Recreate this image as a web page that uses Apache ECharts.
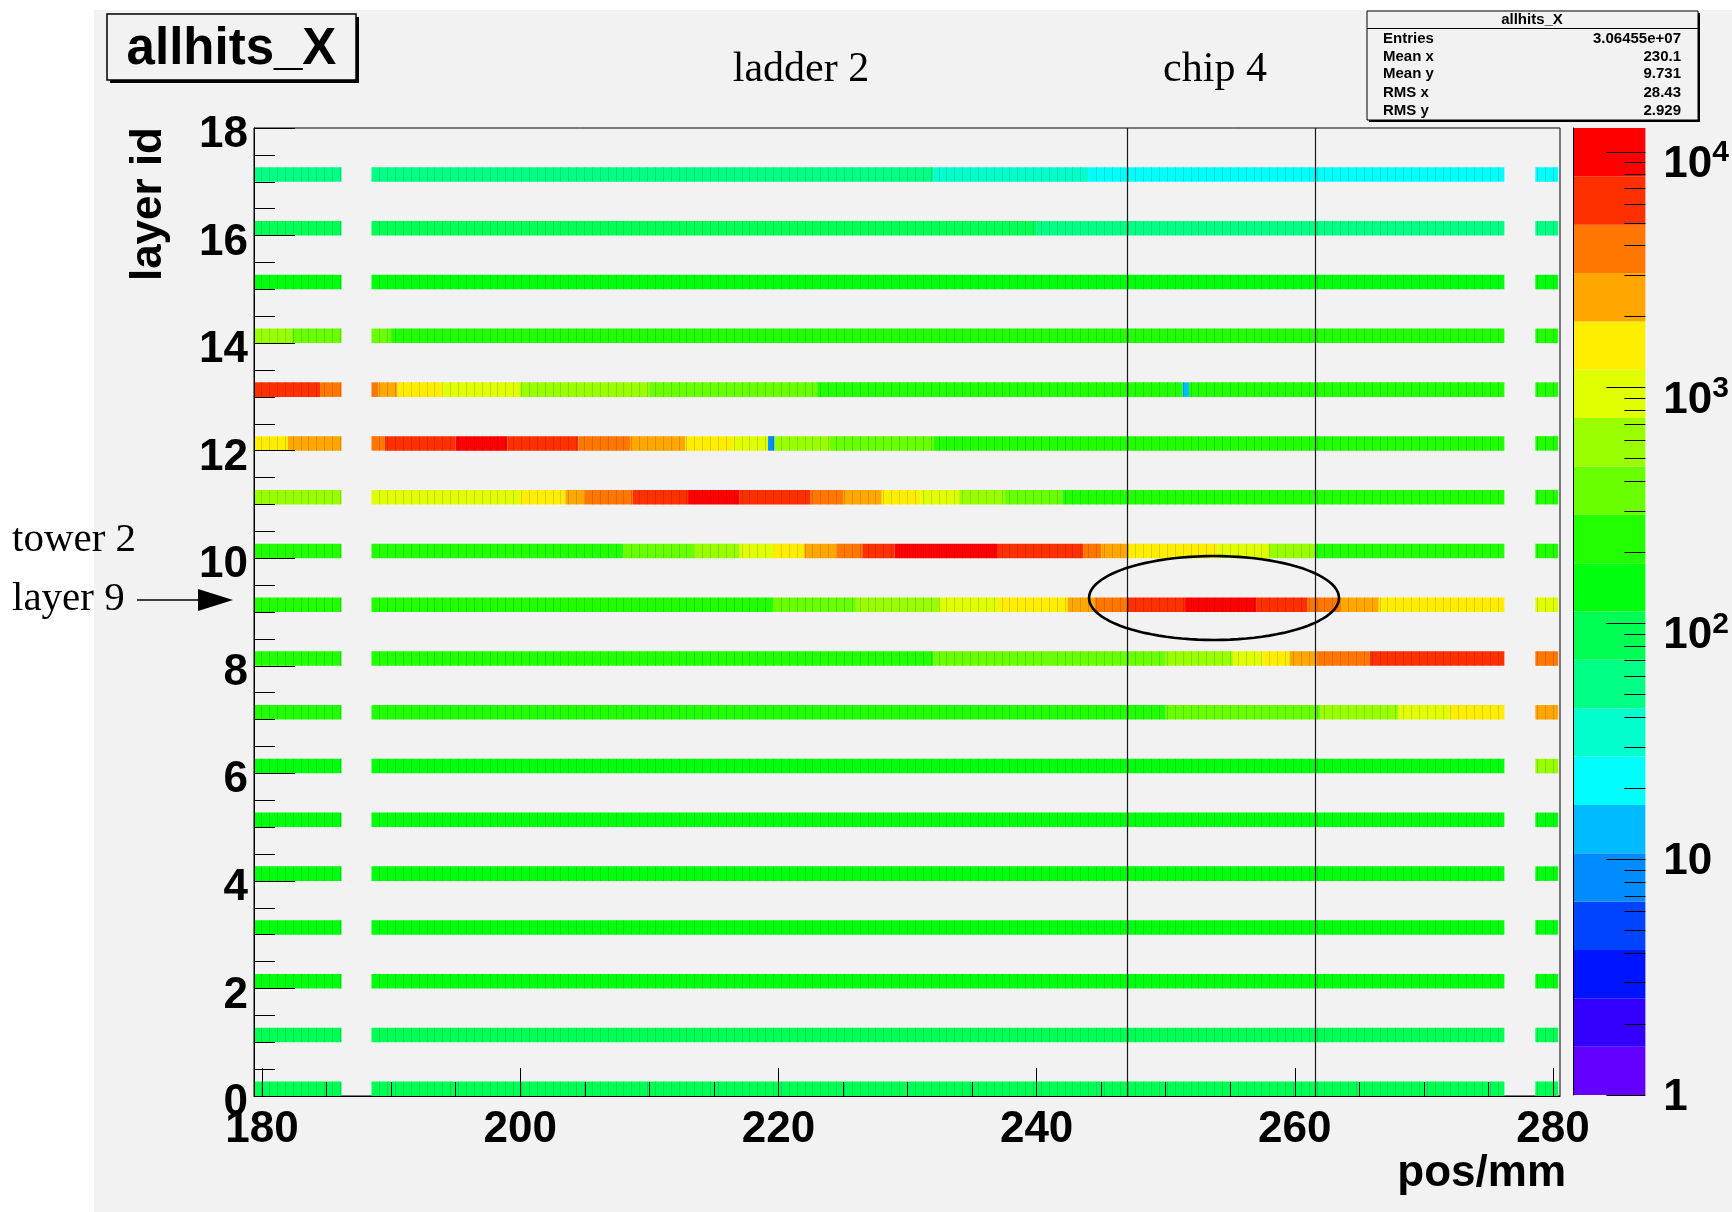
<!DOCTYPE html>
<html>
<head>
<meta charset="utf-8">
<script src="https://cdn.jsdelivr.net/npm/echarts@6/dist/echarts.min.js"></script>
<style>
  html, body { margin: 0; padding: 0; background: #ffffff; }
  #chart { width: 1732px; height: 1212px; }
</style>
</head>
<body>
<div id="chart"></div>
<script>
// Hits per layer, as runs of [from mm, to mm, hits]
const layer00 = [[179.38, 186.16, 100], [188.48, 276.23, 100], [278.63, 280.4, 100]];
const layer01 = [[179.38, 186.16, 100], [188.48, 276.23, 100], [278.63, 280.4, 100]];
const layer02 = [[179.38, 186.16, 140], [188.48, 276.23, 140], [278.63, 280.4, 140]];
const layer03 = [[179.38, 186.16, 140], [188.48, 276.23, 140], [278.63, 280.4, 140]];
const layer04 = [[179.38, 186.16, 150], [188.48, 276.23, 150], [278.63, 280.4, 150]];
const layer05 = [[179.38, 186.16, 150], [188.48, 276.23, 150], [278.63, 280.4, 150]];
const layer06 = [[179.38, 186.16, 170], [188.48, 276.23, 170], [278.63, 280.4, 500]];
const layer07 = [[179.38, 186.16, 190], [188.48, 250, 190], [250, 262, 320], [262, 268, 600],
                 [268, 272, 950], [272, 276.23, 1400], [278.63, 280.4, 2300]];
const layer08 = [[179.38, 186.16, 210], [188.48, 232, 210], [232, 241, 330], [241, 250, 420],
                 [250, 255.2, 620], [255.2, 257.5, 950], [257.5, 259.6, 1450], [259.6, 261.7, 2300],
                 [261.7, 265.8, 3800], [265.8, 276.23, 6200], [278.63, 280.4, 3800]];
const layer09 = [[179.38, 186.16, 210], [188.48, 219.6, 210], [219.6, 226, 360], [226, 232.5, 620],
                 [232.5, 237, 950], [237, 242.4, 1450], [242.4, 244.5, 2300], [244.5, 247, 3800],
                 [247, 251.5, 6200], [251.5, 257, 9000], [257, 261, 6200], [261, 263.5, 3800],
                 [263.5, 266.5, 2300], [266.5, 276.23, 1450], [278.63, 280.4, 900]];
const layer10 = [[179.38, 186.16, 210], [188.48, 208, 210], [208, 213.5, 360], [213.5, 217, 620],
                 [217, 219.6, 950], [219.6, 222, 1450], [222, 224.5, 2300], [224.5, 226.5, 3800],
                 [226.5, 229, 6200], [229, 237, 8600], [237, 243.6, 6200], [243.6, 245, 3800],
                 [245, 247, 2300], [247, 254, 1450], [254, 258, 950], [258, 261.6, 620],
                 [261.6, 276.23, 230], [278.63, 280.4, 230]];
const layer11 = [[179.38, 186.16, 600], [188.48, 196, 800], [196, 200, 1100], [200, 203.5, 1500],
                 [203.5, 205, 2300], [205, 208.7, 3800], [208.7, 213, 6200], [213, 217, 8500],
                 [217, 222.5, 6200], [222.5, 225, 3800], [225, 228, 2300], [228, 231, 1450],
                 [231, 234, 950], [234, 237.5, 620], [237.5, 242, 360], [242, 276.23, 230],
                 [278.63, 280.4, 230]];
const layer12 = [[179.38, 182, 1500], [182, 186.16, 2300], [188.48, 189.5, 3800], [189.5, 195, 6200],
                 [195, 199, 8500], [199, 204.5, 6200], [204.5, 208.5, 3800], [208.5, 212.8, 2300],
                 [212.8, 216.5, 1450], [216.5, 219.2, 1000], [219.2, 219.7, 8], [219.7, 224, 620],
                 [224, 232, 360], [232, 276.23, 230], [278.63, 280.4, 230]];
const layer13 = [[179.38, 184.5, 6200], [184.5, 186.16, 3800], [188.48, 189, 3800], [189, 190.5, 2300],
                 [190.5, 194, 1450], [194, 200, 950], [200, 210, 620], [210, 223, 360],
                 [223, 251.3, 230], [251.3, 251.8, 14], [251.8, 276.23, 230], [278.63, 280.4, 230]];
const layer14 = [[179.38, 182.3, 600], [182.3, 186.16, 380], [188.48, 190, 380], [190, 276.23, 200],
                 [278.63, 280.4, 200]];
const layer15 = [[179.38, 186.16, 160], [188.48, 276.23, 160], [278.63, 280.4, 160]];
const layer16 = [[179.38, 186.16, 100], [188.48, 240, 100], [240, 276.23, 65], [278.63, 280.4, 65]];
const layer17 = [[179.38, 186.16, 65], [188.48, 232, 65], [232, 244, 40], [244, 276.23, 25],
                 [278.63, 280.4, 25]];
const layers = [layer00, layer01, layer02, layer03, layer04, layer05, layer06, layer07, layer08,
                layer09, layer10, layer11, layer12, layer13, layer14, layer15, layer16, layer17];

// Axis ticks
const xTickValues = [180, 200, 220, 240, 260, 280];
const xMinorTickValues = [185, 190, 195, 205, 210, 215, 225, 230, 235, 245, 250, 255, 265, 270, 275];
const zDecadeExponents = [0, 1, 2, 3, 4];
const zMinorTickValues = [2, 3, 4, 5, 6, 7, 8, 9, 20, 30, 40, 50, 60, 70, 80, 90,
                          200, 300, 400, 500, 600, 700, 800, 900, 2000, 3000, 4000, 5000, 6000, 7000, 8000, 9000];
const zLogMax = 4.1;   // colour scale top, log10(hits)

// Chip 4 boundaries on ladder 2 (mm) and the circled hot spot [x, layer, half-width, half-height]
const chipEdges = [247.0, 261.6];
const hotSpot = [[253.74, 9.26, 9.68, 0.78]];

// Statistics box
const statsTitle = 'allhits_X';
const statsRows = [['Entries', '3.06455e+07'], ['Mean x', '230.1'], ['Mean y', '9.731'],
                   ['RMS x', '28.43'], ['RMS y', '2.929']];

// 20-level rainbow palette, violet to red
const palette = ['#6300FF', '#3300FF', '#0014FF', '#0044FF', '#008BFF', '#00BBFF', '#00FFFC', '#00FFCC',
                 '#00FF85', '#00FF55', '#00FF0E', '#22FF00', '#69FF00', '#99FF00', '#E0FF00', '#FFEE00',
                 '#FFA700', '#FF7700', '#FF3000', '#FF0000'];

const STRIP = 0.27;         // strip height in layer units
const CELL_ORIGIN = 188.48; // readout cell grid
const CELL_PITCH = 0.61;
const SANS = '"Liberation Sans", Arial, Helvetica, sans-serif';
const SERIF = '"Liberation Serif", "Times New Roman", serif';

function colourFor(v) {
  const step = zLogMax / palette.length;
  let j = Math.floor(Math.log10(Math.max(v, 1)) / step);
  j = Math.max(0, Math.min(palette.length - 1, j));
  return palette[j];
}

const cellData = [];
layers.forEach(function (runs, k) {
  runs.forEach(function (r) { cellData.push([r[0], r[1], k, r[2]]); });
});

const bandData = palette.map(function (c, j) {
  const step = zLogMax / palette.length;
  return [j * step, (j + 1) * step, j];
});

// colour-scale ticks: [log10 value, 1 = decade]
const zTickData = zDecadeExponents.map(function (e) { return [e, 1]; })
  .concat(zMinorTickValues.map(function (v) { return [Math.log10(v), 0]; }));

function renderCell(params, api) {
  const x0 = api.value(0), x1 = api.value(1), k = api.value(2), v = api.value(3);
  const tl = api.coord([x0, k + STRIP]);
  const br = api.coord([x1, k]);
  const h = br[1] - tl[1];
  const children = [{
    type: 'rect',
    shape: { x: tl[0], y: tl[1], width: br[0] - tl[0], height: h },
    style: { fill: colourFor(v) }
  }];
  // seams between neighbouring readout cells
  let n = Math.ceil((x0 - CELL_ORIGIN) / CELL_PITCH + 1e-6);
  for (; CELL_ORIGIN + n * CELL_PITCH < x1 - 1e-6; n++) {
    const px = api.coord([CELL_ORIGIN + n * CELL_PITCH, k])[0];
    children.push({
      type: 'rect',
      shape: { x: Math.round(px), y: tl[1], width: 1, height: h },
      style: { fill: 'rgba(0,0,0,0.14)' }
    });
  }
  return { type: 'group', children: children };
}

function renderChipEdge(params, api) {
  const x = api.value(0);
  const a = api.coord([x, 0]);
  const b = api.coord([x, 18]);
  return {
    type: 'line',
    shape: { x1: Math.round(a[0]) + 0.5, y1: a[1], x2: Math.round(b[0]) + 0.5, y2: b[1] },
    style: { stroke: '#1a1a1a', lineWidth: 1.2 }
  };
}

function renderHotSpot(params, api) {
  const cx = api.value(0), cy = api.value(1), rx = api.value(2), ry = api.value(3);
  const pts = [];
  for (let i = 0; i < 96; i++) {
    const t = i / 96 * Math.PI * 2;
    pts.push(api.coord([cx + rx * Math.cos(t), cy + ry * Math.sin(t)]));
  }
  return {
    type: 'polygon',
    shape: { points: pts },
    style: { fill: 'none', stroke: '#000', lineWidth: 2.6 }
  };
}

function renderBand(params, api) {
  const lo = api.value(0), hi = api.value(1), j = api.value(2);
  const tl = api.coord([0, hi]);
  const br = api.coord([1, lo]);
  return {
    type: 'rect',
    shape: { x: tl[0], y: tl[1], width: br[0] - tl[0], height: br[1] - tl[1] },
    style: { fill: palette[j] }
  };
}

function renderZTick(params, api) {
  const p = api.coord([1, api.value(0)]);
  const len = api.value(1) ? 39 : 21;
  const y = Math.round(p[1]) + 0.5;
  return {
    type: 'line',
    shape: { x1: p[0], y1: y, x2: p[0] - len, y2: y },
    style: { stroke: '#000', lineWidth: 1 }
  };
}

const axisFont = { fontFamily: SANS, fontWeight: 'bold', fontSize: 44, color: '#000' };
const richFont = { fontFamily: SANS, fontWeight: 'bold', color: '#000' };

const option = {
  backgroundColor: '#ffffff',
  animation: false,
  grid: [
    { left: 254, top: 128, width: 1306, height: 968, show: true, borderColor: '#000', borderWidth: 1,
      backgroundColor: 'transparent' },
    { left: 1573, top: 128, width: 75, height: 967 }
  ],
  xAxis: [
    {
      gridIndex: 0, type: 'value', min: 179.38, max: 280.54, position: 'bottom', z: 10,
      axisLine: { show: true, lineStyle: { color: '#000', width: 1 } },
      axisTick: { show: true, inside: true, length: 28, customValues: xTickValues,
                  lineStyle: { color: '#000', width: 1 } },
      axisLabel: Object.assign({ margin: 12, customValues: xTickValues }, axisFont),
      splitLine: { show: false }
    },
    {
      gridIndex: 0, type: 'value', min: 179.38, max: 280.54, position: 'bottom', z: 10,
      axisLine: { show: false },
      axisTick: { show: true, inside: true, length: 14, customValues: xMinorTickValues,
                  lineStyle: { color: '#000', width: 1 } },
      axisLabel: { show: false },
      splitLine: { show: false }
    },
    { gridIndex: 1, type: 'value', min: 0, max: 1, show: false }
  ],
  yAxis: [
    {
      gridIndex: 0, type: 'value', min: 0, max: 18, interval: 2, position: 'left', z: 10,
      axisLine: { show: true, lineStyle: { color: '#000', width: 1 } },
      axisTick: { show: true, inside: true, length: 41, lineStyle: { color: '#000', width: 1 } },
      minorTick: { show: true, splitNumber: 4, length: 21, lineStyle: { color: '#000', width: 1 } },
      axisLabel: {
        margin: 6,
        formatter: function (v) { return '{n|' + v + '}'; },
        rich: { n: Object.assign({ fontSize: 44, padding: [14, 0, 0, 0] }, richFont) }
      },
      splitLine: { show: false }
    },
    {
      gridIndex: 1, type: 'value', min: 0, max: zLogMax, position: 'right', z: 10,
      axisLine: { show: true, lineStyle: { color: '#000', width: 1 } },
      axisTick: { show: false },
      axisLabel: {
        margin: 18,
        customValues: zDecadeExponents,
        formatter: function (e) {
          if (e === 0) return '{p|1}';
          if (e === 1) return '{p|10}';
          return '{b|10}{s|' + e + '}';
        },
        rich: {
          p: Object.assign({ fontSize: 44, padding: [5, 0, 0, 0] }, richFont),
          b: Object.assign({ fontSize: 44, padding: [26, 0, 0, 0], verticalAlign: 'bottom' }, richFont),
          s: Object.assign({ fontSize: 30, padding: [21, 0, 0, 0], verticalAlign: 'top' }, richFont)
        }
      },
      splitLine: { show: false }
    }
  ],
  series: [
    { type: 'custom', name: 'allhits_X', xAxisIndex: 0, yAxisIndex: 0, z: 2,
      renderItem: renderCell, data: cellData, encode: { x: [0, 1], y: 2 }, silent: true },
    { type: 'custom', name: 'chip edges', xAxisIndex: 0, yAxisIndex: 0, z: 3,
      renderItem: renderChipEdge, data: chipEdges.map(function (x) { return [x]; }),
      encode: { x: 0 }, silent: true },
    { type: 'custom', name: 'hot spot', xAxisIndex: 0, yAxisIndex: 0, z: 4,
      renderItem: renderHotSpot, data: hotSpot, encode: { x: 0, y: 1 }, silent: true },
    { type: 'custom', name: 'palette', xAxisIndex: 2, yAxisIndex: 1, z: 2,
      renderItem: renderBand, data: bandData, encode: { y: [0, 1] }, silent: true },
    { type: 'custom', name: 'palette ticks', xAxisIndex: 2, yAxisIndex: 1, z: 3,
      renderItem: renderZTick, data: zTickData, encode: { y: 0 }, silent: true }
  ],
  graphic: { elements: [] }
};

const g = option.graphic.elements;
// pad background
g.push({ type: 'rect', z: -100, silent: true, shape: { x: 94, y: 10, width: 1638, height: 1202 },
         style: { fill: '#f2f2f2' } });

function text(x, y, str, font, align, extra) {
  return Object.assign({ type: 'text', z: 22, x: x, y: y,
    style: { text: str, font: font, fill: '#000', align: align, verticalAlign: 'middle' } }, extra || {});
}

// title box
g.push({ type: 'rect', z: 20, shape: { x: 110, y: 17, width: 249, height: 66 }, style: { fill: '#000' } });
g.push({ type: 'rect', z: 21, shape: { x: 107, y: 14, width: 249, height: 66 },
         style: { fill: '#f2f2f2', stroke: '#000', lineWidth: 1.5 } });
g.push(text(231.5, 50, 'allhits_X', 'bold 51px ' + SANS, 'center'));

// statistics box
g.push({ type: 'rect', z: 20, shape: { x: 1369, y: 13, width: 331, height: 109 }, style: { fill: '#000' } });
g.push({ type: 'rect', z: 21, shape: { x: 1367, y: 11, width: 331, height: 109 },
         style: { fill: '#f2f2f2', stroke: '#000', lineWidth: 1 } });
g.push({ type: 'line', z: 22, shape: { x1: 1367, y1: 28.5, x2: 1698, y2: 28.5 },
         style: { stroke: '#000', lineWidth: 1 } });
g.push(text(1532, 20, statsTitle, 'bold 15px ' + SANS, 'center'));
const statsY = [39, 56.5, 74, 92.5, 110.5];
statsRows.forEach(function (row, i) {
  g.push(text(1383, statsY[i], row[0], 'bold 15px ' + SANS, 'left'));
  g.push(text(1681, statsY[i], row[1], 'bold 15px ' + SANS, 'right'));
});

// annotations
g.push(text(801, 70, 'ladder 2', '42px ' + SERIF, 'center'));
g.push(text(1215, 70, 'chip 4', '42px ' + SERIF, 'center'));
g.push(text(12, 540, 'tower 2', '41px ' + SERIF, 'left'));
g.push(text(12, 599, 'layer 9', '41px ' + SERIF, 'left'));
g.push({ type: 'line', z: 22, shape: { x1: 137, y1: 600, x2: 202, y2: 600 },
         style: { stroke: '#000', lineWidth: 1.5 } });
g.push({ type: 'polygon', z: 22, shape: { points: [[198, 589], [233, 600], [198, 611]] },
         style: { fill: '#000' } });

// axis titles
g.push(text(1566, 1174, 'pos/mm', 'bold 44px ' + SANS, 'right'));
g.push(text(149, 127, 'layer id', 'bold 44px ' + SANS, 'right', { rotation: Math.PI / 2 }));

const chart = echarts.init(document.getElementById('chart'), null, { renderer: 'canvas' });
chart.setOption(option);
</script>
</body>
</html>
